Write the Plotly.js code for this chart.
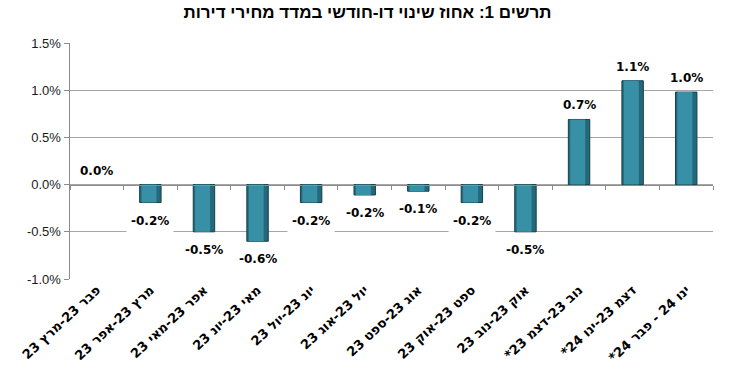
<!DOCTYPE html>
<html>
<head>
<meta charset="utf-8">
<script src="https://cdn.plot.ly/plotly-3.0.1.min.js"></script>
<style>body{margin:0;background:#fff;}</style>
</head>
<body>
<div id="chart" style="width:735px;height:391px;"></div>
<script>
const categories = [
  "פבר 23-מרץ 23",
  "מרץ 23-אפר 23",
  "אפר 23-מאי 23",
  "מאי 23-יונ 23",
  "יונ 23-יול 23",
  "יול 23-אוג 23",
  "אוג 23-ספט 23",
  "ספט 23-אוק 23",
  "אוק 23-נוב 23",
  "נוב 23-דצמ 23*",
  "דצמ 23-ינו 24*",
  "ינו 24 - פבר 24*"
];
const values = [0.0, -0.19, -0.5, -0.6, -0.19, -0.11, -0.07, -0.19, -0.5, 0.69, 1.1, 0.98];
const valueLabels = ["0.0%", "-0.2%", "-0.5%", "-0.6%", "-0.2%", "-0.2%", "-0.1%", "-0.2%", "-0.5%", "0.7%", "1.1%", "1.0%"];
const yTickVals = [-1.0, -0.5, 0.0, 0.5, 1.0, 1.5];
const yTickText = ["-1.0%", "-0.5%", "0.0%", "0.5%", "1.0%", "1.5%"];
const titleText = "תרשים 1: אחוז שינוי דו-חודשי במדד מחירי דירות";

const RLM = "\u200F";
const catLabels = categories.map(c => RLM + c + RLM);

const trace = {
  type: 'bar',
  x: catLabels,
  y: values,
  width: 0.4,
  marker: {
    color: '#23697b',
    line: { color: '#153f4a', width: values.map(v => v === 0 ? 0 : 1) }
  },
  hoverinfo: 'none',
  cliponaxis: false
};
// lighter face to imitate the bevelled bars
const faceTrace = {
  type: 'bar',
  x: catLabels,
  y: values,
  width: 0.28,
  offset: -0.165,
  marker: { color: '#3790a6', line: { width: 0 } },
  hoverinfo: 'none'
};
// zero-axis carrier for boundary ticks
const axisTrace = {
  type: 'bar', x: catLabels, y: values.map(() => 0), xaxis: 'x2', yaxis: 'y',
  marker: { color: 'rgba(0,0,0,0)', line: { width: 0 } }, hoverinfo: 'none', showlegend: false
};

const annotations = values.map((v, i) => ({
  x: catLabels[i], y: v, xref: 'x', yref: 'y',
  text: valueLabels[i],
  showarrow: false,
  yanchor: v >= 0 ? 'bottom' : 'top',
  yshift: v >= 0 ? 2 : -6,
  bgcolor: '#ffffff',
  borderpad: 4,
  font: { family: 'DejaVu Sans', size: 12, color: '#000', weight: 'bold' }
}));

const layout = {
  width: 735, height: 391,
  margin: { l: 70, r: 22, t: 43, b: 112 },
  paper_bgcolor: '#fff', plot_bgcolor: '#fff',
  showlegend: false,
  barmode: 'overlay',
  title: {
    text: '<b>' + titleText + '</b>',
    x: 0.5, xanchor: 'center', y: 0.968, yanchor: 'middle',
    font: { family: 'Liberation Sans, Arial', size: 17, color: '#000' }
  },
  xaxis: {
    type: 'category',
    tickangle: -43,
    showgrid: false, zeroline: false,
    showline: false, ticks: '',
    tickfont: { family: 'DejaVu Sans', size: 13, color: '#000', weight: 'bold' },
    automargin: false
  },
  xaxis2: {
    type: 'category', overlaying: 'x', anchor: 'free', position: 0.4, side: 'bottom',
    showline: true, linecolor: '#8c8c8c', linewidth: 1.5,
    ticks: 'outside', tickson: 'boundaries', ticklen: 4, tickcolor: '#8c8c8c', tickwidth: 1,
    showticklabels: false, showgrid: false, zeroline: false
  },
  yaxis: {
    range: [-1.0, 1.5],
    tickvals: yTickVals, ticktext: yTickText,
    showgrid: true, gridcolor: '#a6a6a6', gridwidth: 1.3,
    zeroline: false,
    showline: true, linecolor: '#8c8c8c', linewidth: 1.5,
    ticks: 'outside', ticklen: 5, tickcolor: '#8c8c8c',
    tickfont: { family: 'Liberation Sans, Arial', size: 13, color: '#1a1a1a' },
    automargin: false
  },
  annotations: annotations
};

Plotly.newPlot('chart', [axisTrace, trace, faceTrace], layout, { displayModeBar: false, staticPlot: true });
</script>
</body>
</html>
